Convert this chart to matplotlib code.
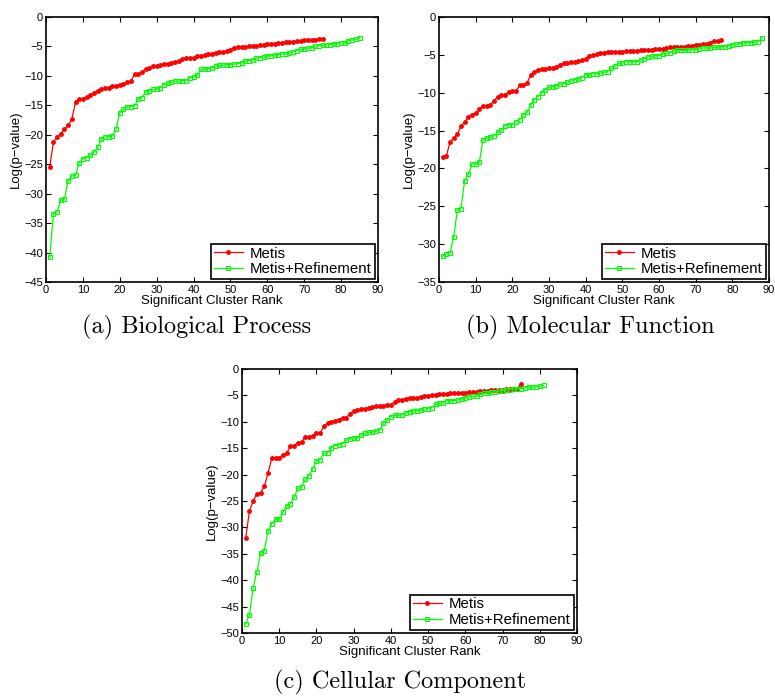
#!/usr/bin/env python3

import numpy as np
import matplotlib
matplotlib.use("Agg")
import matplotlib.pyplot as plt


# Werte (Rang 1..n)
bp_metis = [-25.5, -21.3, -20.3, -19.8, -19.0, -18.4, -17.4, -14.4, -14.0, -13.9,
            -13.6, -13.3, -12.9, -12.5, -12.3, -12.1, -12.0, -11.8, -11.7, -11.5,
            -11.4, -11.1, -10.9, -9.7, -9.7, -9.4, -8.8, -8.7, -8.3, -8.3,
            -8.2, -8.0, -7.9, -7.8, -7.6, -7.5, -7.2, -7.0, -7.0, -6.9,
            -6.7, -6.6, -6.5, -6.3, -6.2, -6.1, -6.0, -5.9, -5.8, -5.6,
            -5.2, -5.1, -5.1, -5.1, -5.0, -5.0, -4.9, -4.8, -4.7, -4.6,
            -4.5, -4.5, -4.4, -4.4, -4.3, -4.3, -4.2, -4.1, -4.1, -3.9,
            -3.9, -3.9, -3.9, -3.8, -3.7]
bp_refine = [-40.8, -33.5, -33.1, -31.1, -30.9, -27.8, -27.0, -26.9, -24.8, -24.1,
             -23.9, -23.5, -23.0, -22.1, -20.7, -20.4, -20.3, -20.2, -19.0, -16.3,
             -15.7, -15.3, -15.2, -15.1, -14.0, -13.7, -12.7, -12.5, -12.3, -12.2,
             -12.0, -11.5, -11.2, -11.1, -10.9, -10.9, -10.8, -10.8, -10.4, -10.2,
             -9.9, -8.9, -8.8, -8.8, -8.7, -8.3, -8.2, -8.2, -8.1, -8.1,
             -8.0, -7.9, -7.8, -7.4, -7.4, -7.3, -7.0, -6.9, -6.8, -6.6,
             -6.6, -6.5, -6.4, -6.3, -6.2, -6.1, -6.0, -5.7, -5.5, -5.4,
             -5.3, -5.2, -5.0, -4.9, -4.8, -4.8, -4.7, -4.6, -4.5, -4.4,
             -4.4, -4.0, -3.9, -3.8, -3.5]

mf_metis = [-18.5, -18.4, -16.5, -16.0, -15.5, -14.4, -13.9, -13.2, -12.9, -12.7,
            -12.2, -11.7, -11.7, -11.6, -11.1, -10.5, -10.3, -10.3, -9.9, -9.8,
            -9.8, -9.0, -9.0, -8.7, -7.7, -7.2, -7.0, -6.9, -6.9, -6.8,
            -6.7, -6.6, -6.3, -6.1, -6.1, -6.0, -5.9, -5.8, -5.7, -5.5,
            -5.1, -5.0, -4.9, -4.8, -4.7, -4.6, -4.6, -4.6, -4.6, -4.6,
            -4.5, -4.5, -4.5, -4.5, -4.4, -4.4, -4.3, -4.3, -4.2, -4.2,
            -4.2, -4.1, -4.0, -4.0, -3.9, -3.9, -3.9, -3.8, -3.8, -3.7,
            -3.7, -3.6, -3.5, -3.4, -3.2, -3.2, -3.1]
mf_refine = [-31.6, -31.3, -31.2, -29.1, -25.5, -25.3, -21.6, -20.8, -19.4, -19.4,
             -19.2, -16.2, -16.0, -15.9, -15.7, -15.2, -14.9, -14.4, -14.2, -14.2,
             -13.9, -13.6, -12.9, -12.6, -11.6, -10.9, -10.5, -10.0, -9.6, -9.3,
             -9.2, -9.1, -8.9, -8.8, -8.6, -8.5, -8.3, -8.2, -8.0, -7.6,
             -7.6, -7.5, -7.5, -7.4, -7.3, -7.2, -6.8, -6.5, -6.1, -6.1,
             -5.9, -5.9, -5.9, -5.9, -5.7, -5.5, -5.3, -5.2, -5.1, -5.1,
             -4.9, -4.8, -4.7, -4.5, -4.4, -4.4, -4.4, -4.4, -4.3, -4.3,
             -4.2, -4.1, -4.1, -4.1, -4.0, -4.0, -3.9, -3.9, -3.8, -3.7,
             -3.6, -3.5, -3.4, -3.4, -3.4, -3.3, -3.3, -2.8]

cc_metis = [-32.0, -26.9, -25.0, -23.6, -23.5, -22.2, -19.7, -16.9, -16.8, -16.8,
            -16.3, -15.9, -14.6, -14.5, -14.0, -13.8, -12.9, -12.9, -12.6, -12.2,
            -12.2, -10.8, -10.3, -10.1, -9.8, -9.6, -9.2, -9.2, -8.5, -7.9,
            -7.7, -7.6, -7.5, -7.3, -7.2, -7.1, -7.0, -7.0, -6.9, -6.8,
            -6.2, -5.9, -5.8, -5.6, -5.5, -5.5, -5.4, -5.3, -5.2, -5.1,
            -5.0, -4.9, -4.8, -4.8, -4.7, -4.6, -4.6, -4.5, -4.5, -4.5,
            -4.4, -4.4, -4.3, -4.2, -4.2, -4.1, -4.0, -4.0, -3.9, -3.9,
            -3.8, -3.8, -3.7, -3.7, -2.8]
cc_refine = [-48.3, -46.5, -41.4, -38.4, -34.8, -34.4, -30.7, -29.3, -28.5, -28.5,
             -27.1, -26.0, -25.5, -24.3, -22.6, -22.4, -20.9, -20.2, -18.9, -17.4,
             -17.2, -15.9, -15.9, -14.9, -14.5, -14.4, -14.2, -13.5, -13.2, -13.1,
             -13.0, -12.5, -12.2, -12.0, -12.0, -11.8, -11.6, -10.2, -9.7, -9.0,
             -8.8, -8.8, -8.7, -8.4, -8.1, -8.0, -7.9, -7.8, -7.6, -7.5,
             -7.3, -6.7, -6.5, -6.4, -6.0, -6.0, -6.0, -5.9, -5.7, -5.5,
             -5.3, -5.2, -5.1, -4.8, -4.6, -4.5, -4.4, -4.3, -4.2, -4.1,
             -4.0, -3.9, -3.8, -3.7, -3.7, -3.6, -3.5, -3.4, -3.4, -3.3,
             -3.1]

captions = ["(a) Biological Process", "(b) Molecular Function", "(c) Cellular Component"]
y_bottoms = [-45, -35, -50]
series_labels = ["Metis", "Metis+Refinement"]


W, H = 775, 696
fig = plt.figure(figsize=(W / 100, H / 100), dpi=100)
plt.rcParams["font.family"] = ["Liberation Sans", "DejaVu Sans"]


def px_axes(left, right, top, bottom):
    # Pixelkoordinaten -> Figurkoordinaten
    return [left / W, 1 - bottom / H, (right - left) / W, (bottom - top) / H]


# Position der drei Achsen (in Pixeln)
boxes = [(46, 378, 17, 282), (439, 769, 17, 282), (242, 577, 369, 633)]
caption_pos = [(197, 327), (590, 327), (400, 682)]

panels = [(bp_metis, bp_refine), (mf_metis, mf_refine), (cc_metis, cc_refine)]

for i, (metis, refine) in enumerate(panels):
    ax = fig.add_axes(px_axes(*boxes[i]))

    x1 = np.arange(1, len(metis) + 1)
    x2 = np.arange(1, len(refine) + 1)

    ax.plot(x1, metis, color="#ff0000", lw=0.9, marker=".", ms=5,
            label=series_labels[0])
    ax.plot(x2, refine, color="#00ff00", lw=0.9, marker="s", ms=3.5,
            mfc="none", mew=0.8, label=series_labels[1])

    ax.set_xlim(0, 90)
    ax.set_ylim(y_bottoms[i], 0)
    ax.set_xticks(np.arange(0, 91, 10))
    ax.set_yticks(np.arange(y_bottoms[i], 1, 5))

    ax.tick_params(direction="in", top=True, right=True, length=3.5,
                   width=0.8, labelsize=8, pad=2)
    for sp in ax.spines.values():
        sp.set_linewidth(1.2)

    ax.set_xlabel("Significant Cluster Rank", fontsize=9.5, labelpad=0)
    ax.set_ylabel("Log(p\u2212value)", fontsize=9.5, labelpad=2)

    leg = ax.legend(loc="lower right", fontsize=10.8, fancybox=False,
                    framealpha=1, edgecolor="black", borderaxespad=0.2,
                    handlelength=1.9, borderpad=0.2, labelspacing=0.1,
                    handletextpad=0.5)
    leg.get_frame().set_linewidth(1.2)

    cx, cy = caption_pos[i]
    fig.text(cx / W, 1 - cy / H, captions[i], ha="center", va="center",
             fontsize=17.5, family="cmr10")

fig.savefig("out.png", dpi=100)
